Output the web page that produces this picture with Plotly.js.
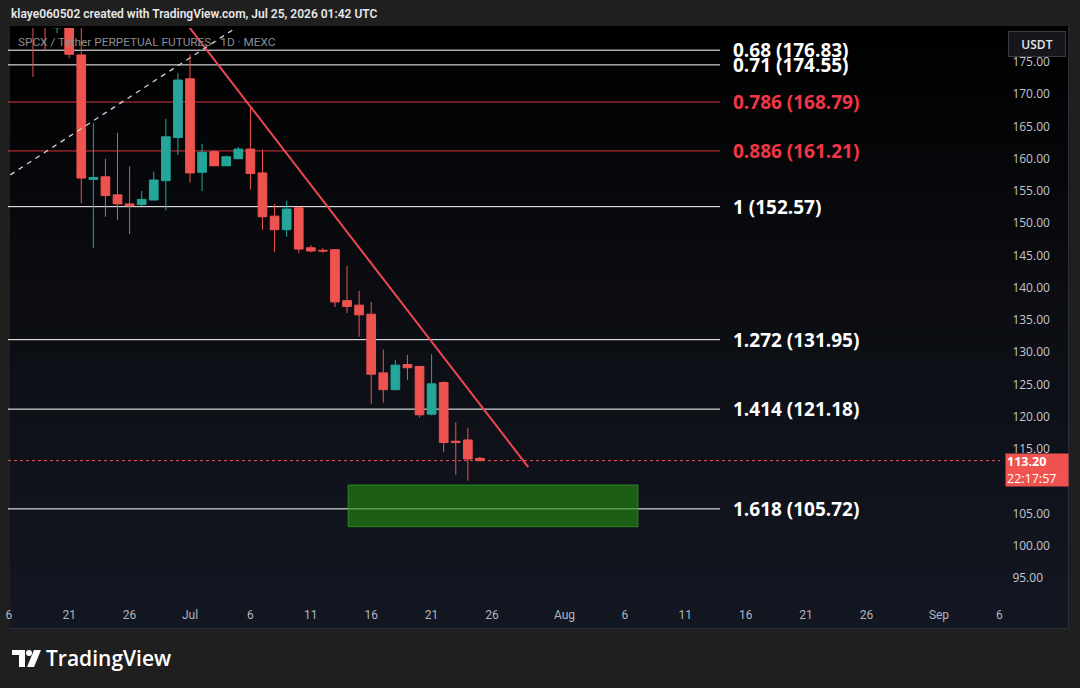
<!DOCTYPE html>
<html>
<head>
<meta charset="utf-8">
<script src="https://cdn.plot.ly/plotly-3.0.1.min.js"></script>
<style>
  html, body { margin:0; padding:0; background:#1f1f1f; }
  #wrap { position:relative; width:1080px; height:688px; overflow:hidden; }
  #panel { position:absolute; left:10px; top:26px; width:1058px; height:602px;
           background:linear-gradient(to bottom, #000000 0%, #0b0d12 45%, #131722 100%);
           border-right:1px solid #2a2e39; border-bottom:1px solid #2a2e39; }
  #chart { position:absolute; left:0; top:0; width:1080px; height:688px; }
</style>
</head>
<body>
<div id="wrap"><div id="panel"></div><div id="chart"></div></div>
<script>
// ---------- data ----------
const dates = ['2026-06-18','2026-06-19','2026-06-20','2026-06-21','2026-06-22','2026-06-23','2026-06-24','2026-06-25','2026-06-26','2026-06-27','2026-06-28','2026-06-29','2026-06-30',
  '2026-07-01','2026-07-02','2026-07-03','2026-07-04','2026-07-05','2026-07-06','2026-07-07','2026-07-08','2026-07-09','2026-07-10','2026-07-11','2026-07-12','2026-07-13','2026-07-14','2026-07-15','2026-07-16','2026-07-17','2026-07-18','2026-07-19','2026-07-20','2026-07-21','2026-07-22','2026-07-23','2026-07-24','2026-07-25'];
const opens  = [184.0,181.5,180.3,182.5,176.1,156.8,157.2,154.4,153.0,152.9,153.6,156.6,163.3, 172.4,157.9,161.1,158.9,160.0,161.5,157.8,151.1,149.0,152.4,146.2,145.8,145.9,138.0,137.3,135.9,126.8,124.2,128.1,127.8,120.4,125.3,116.2,116.4,113.55];
const highs  = [186.0,182.0,181.5,183.0,180.3,165.5,160.0,164.0,158.8,155.0,158.0,166.2,173.3, 176.2,162.3,161.3,160.5,161.8,167.9,161.4,153.0,153.5,152.6,146.6,146.2,146.0,143.4,139.5,137.8,130.4,128.8,129.6,127.9,129.7,125.5,119.1,118.3,113.8];
const lows   = [172.7,176.9,179.45,175.6,153.1,146.2,151.0,150.5,148.3,152.7,153.6,152.0,160.6, 156.3,155.0,158.9,158.9,160.0,155.2,149.0,145.5,147.9,145.4,145.5,145.4,137.0,136.1,132.4,122.0,122.2,124.1,125.7,119.9,120.2,114.5,111.0,110.1,113.1];
const closes = [182.0,180.4,181.0,176.2,157.0,157.1,154.3,153.0,152.7,153.7,156.7,163.4,172.2, 157.8,161.0,158.9,160.3,161.5,157.7,151.0,149.0,152.2,146.0,145.7,145.7,137.8,137.1,135.8,126.6,124.2,128.0,127.6,120.3,125.1,116.0,116.0,113.45,113.20];

const fibRatios = ['0.68','0.71','0.786','0.886','1','1.272','1.414','1.618'];
const fibPrices = [176.83,174.55,168.79,161.21,152.57,131.95,121.18,105.72];
const fibStart = '2026-06-01';
const fibEnd   = '2026-08-13 21:00';
const fibLabelDate = '2026-08-14 19:00';

const trendDates  = ['2026-06-29','2026-07-29'];
const trendPrices = [185.1, 112.2];
const dashDates   = ['2026-06-16 03:00','2026-07-08'];
const dashPrices  = [157.5, 184.2];
const zoneDates   = ['2026-07-14 02:00','2026-08-07 02:00'];
const zonePrices  = [102.95, 109.42];

const lastPrice = 113.20;
const countdown = '22:17:57';

const xTickVals = ['2026-06-16','2026-06-21','2026-06-26','2026-07-01','2026-07-06','2026-07-11','2026-07-16','2026-07-21','2026-07-26','2026-08-01','2026-08-06','2026-08-11','2026-08-16','2026-08-21','2026-08-26','2026-09-01','2026-09-06'];
const xTickText = ['6','21','26','Jul','6','11','16','21','26','Aug','6','11','16','21','26','Sep','6'];
const yTickVals = [95,100,105,110,115,120,125,130,135,140,145,150,155,160,165,170,175];

const headerText = 'klaye060502 created with TradingView.com, Jul 25, 2026 01:42 UTC';
const symbolText = 'SPCX / Tether PERPETUAL FUTURES · 1D · MEXC';

// ---------- layout helpers ----------
const W = 1080, H = 688;
const M = {l:8, r:80, t:28, b:88};
const PW = W - M.l - M.r, PH = H - M.t - M.b;
const px = v => (v - M.l) / PW;
const py = v => (H - M.b - v) / PH;

const UP = '#26a69a', DOWN = '#ef5350';
const redRatios = ['0.786','0.886'];

const traces = [
  {
    type:'candlestick', x:dates, open:opens, high:highs, low:lows, close:closes,
    increasing:{line:{color:UP, width:1}, fillcolor:UP},
    decreasing:{line:{color:DOWN, width:1}, fillcolor:DOWN},
    whiskerwidth:0, hoverinfo:'skip', showlegend:false
  },
  {
    type:'scatter', mode:'lines', x:trendDates, y:trendPrices,
    line:{color:'#f04654', width:2}, hoverinfo:'skip', showlegend:false
  },
  {
    type:'scatter', mode:'lines', x:dashDates, y:dashPrices,
    line:{color:'#d1d4dc', width:1.3, dash:'5px,5px'}, hoverinfo:'skip', showlegend:false
  }
];

const shapes = [];
const annotations = [];

fibRatios.forEach((r, i) => {
  const isRed = redRatios.includes(r);
  shapes.push({type:'line', xref:'x', yref:'y', x0:fibStart, x1:fibEnd, y0:fibPrices[i], y1:fibPrices[i],
    line:{color: isRed ? '#d8383f' : '#ffffff', width:1}, layer:'below'});
  annotations.push({xref:'x', yref:'y', x:fibLabelDate, y:fibPrices[i], xanchor:'left', yanchor:'middle',
    text: r + ' (' + fibPrices[i].toFixed(2) + ')', showarrow:false,
    font:{family:'Open Sans, DejaVu Sans, sans-serif', size:19, color: isRed ? '#f23645' : '#ffffff', weight:700}});
});

// target zone
shapes.push({type:'rect', xref:'x', yref:'y', x0:zoneDates[0], x1:zoneDates[1], y0:zonePrices[0], y1:zonePrices[1],
  fillcolor:'rgba(37,140,20,0.62)', line:{color:'rgba(60,160,40,0.7)', width:1}, layer:'above'});

// last price dotted line
shapes.push({type:'line', xref:'paper', yref:'y', x0:0, x1:1, y0:lastPrice, y1:lastPrice,
  line:{color:'#ef5350', width:1, dash:'dot'}, layer:'below'});

// last price label on the price scale
annotations.push({xref:'paper', yref:'y', x:px(1005), y:lastPrice, xanchor:'left', yanchor:'top', yshift:8,
  text:'<b>' + lastPrice.toFixed(2) + '</b><br>' + countdown, showarrow:false, align:'left',
  bgcolor:'#ef5350', borderpad:1, width:60, height:30, xshift:0,
  font:{family:'Open Sans, DejaVu Sans, sans-serif', size:12.5, color:'#ffffff'}});

// USDT button
annotations.push({xref:'paper', yref:'paper', x:px(1008), y:py(31), xanchor:'left', yanchor:'top',
  text:'USDT', showarrow:false, bgcolor:'#15171d', bordercolor:'#3a3d45', borderwidth:1, borderpad:0, width:56, height:24, align:'center',
  font:{family:'Open Sans, DejaVu Sans, sans-serif', size:12, color:'#e6e6e6', weight:600}});

// header and symbol line
annotations.push({xref:'paper', yref:'paper', x:px(9), y:py(14), xanchor:'left', yanchor:'middle',
  text:headerText, showarrow:false,
  font:{family:'Roboto, Open Sans, sans-serif', size:12, color:'#e8e8e8', weight:600}});
annotations.push({xref:'paper', yref:'paper', x:px(16), y:py(42), xanchor:'left', yanchor:'middle',
  text:symbolText, showarrow:false,
  font:{family:'Roboto, Open Sans, sans-serif', size:11.8, color:'#8a8d94'}});

// footer brand
annotations.push({xref:'paper', yref:'paper', x:px(44), y:py(658), xanchor:'left', yanchor:'middle',
  text:'TradingView', showarrow:false,
  font:{family:'Open Sans, DejaVu Sans, sans-serif', size:21, color:'#ffffff', weight:600}});
// logo glyph
const logoPath = (pts) => 'M ' + pts.map(p => px(p[0]) + ',' + py(p[1])).join(' L ') + ' Z';
shapes.push({type:'path', xref:'paper', yref:'paper', layer:'above', line:{width:0}, fillcolor:'#ffffff',
  path: logoPath([[12,650],[25,650],[25,667],[19,667],[19,655],[12,655]])});
shapes.push({type:'circle', xref:'paper', yref:'paper', layer:'above', line:{width:0}, fillcolor:'#ffffff',
  x0:px(26), x1:px(32), y0:py(650), y1:py(656)});
shapes.push({type:'path', xref:'paper', yref:'paper', layer:'above', line:{width:0}, fillcolor:'#ffffff',
  path: logoPath([[34,650],[41,650],[34,667],[27,667]])});

const layout = {
  width:W, height:H, margin:M,
  paper_bgcolor:'rgba(0,0,0,0)', plot_bgcolor:'rgba(0,0,0,0)',
  showlegend:false, dragmode:false, hovermode:false,
  boxgap:0.1, boxgroupgap:0.2,
  xaxis:{
    type:'date', range:['2026-06-15 22:25','2026-09-06 01:12'],
    rangeslider:{visible:false}, showgrid:false, zeroline:false, showline:false,
    tickmode:'array', tickvals:xTickVals, ticktext:xTickText,
    ticks:'outside', ticklen:4, tickcolor:'rgba(0,0,0,0)',
    tickfont:{family:'Liberation Sans Narrow, Roboto, sans-serif', size:12, color:'#b2b5be'}
  },
  yaxis:{
    side:'right', range:[91.59, 180.27], showgrid:false, zeroline:false, showline:false,
    tickmode:'array', tickvals:yTickVals, tickformat:'.2f',
    ticks:'outside', ticklen:9, tickcolor:'rgba(0,0,0,0)',
    tickfont:{family:'Open Sans, DejaVu Sans, sans-serif', size:12, color:'#c3c6ce'}
  },
  shapes:shapes, annotations:annotations
};

Plotly.newPlot('chart', traces, layout, {displayModeBar:false, staticPlot:true});
</script>
</body>
</html>
